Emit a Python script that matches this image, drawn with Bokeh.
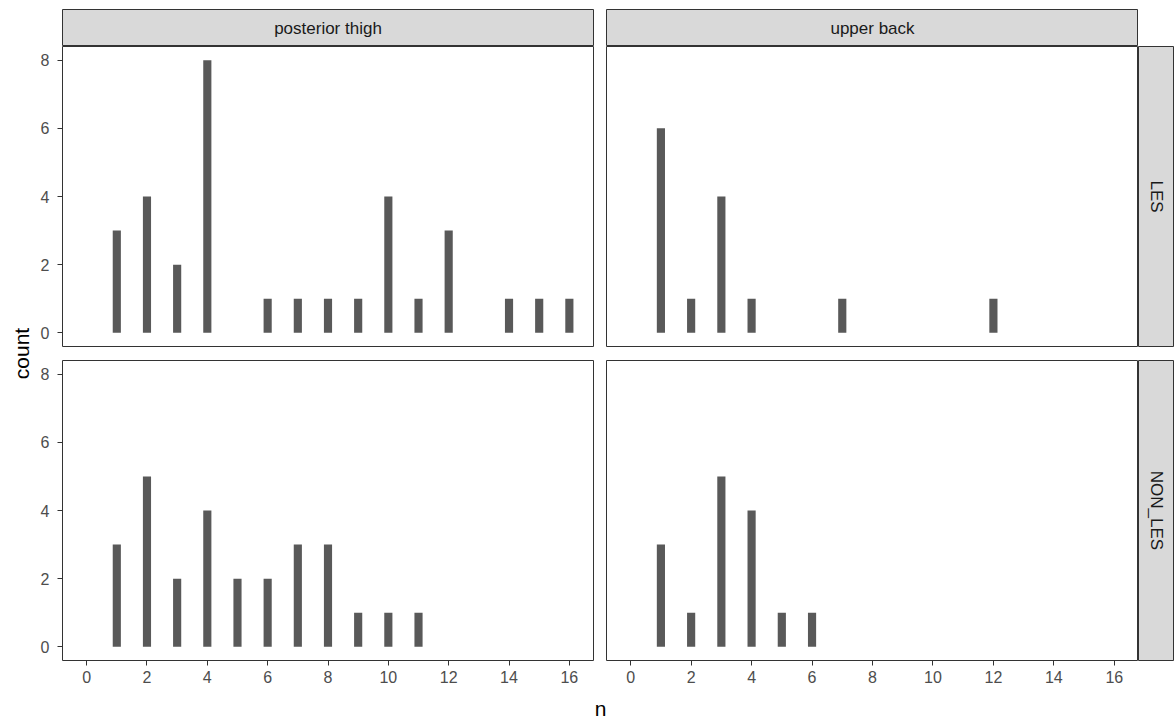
import math
from bokeh.plotting import figure
from bokeh.models import Range1d, FixedTicker, Spacer
from bokeh.layouts import row, column
from bokeh.embed import file_html
from bokeh.resources import INLINE
from bokeh.core.properties import value

# ---------------- data ----------------
col_labels = ["posterior thigh", "upper back"]
row_labels = ["LES", "NON_LES"]

pt_les_n = [1, 2, 3, 4, 6, 7, 8, 9, 10, 11, 12, 14, 15, 16]
pt_les_count = [3, 4, 2, 8, 1, 1, 1, 1, 4, 1, 3, 1, 1, 1]
ub_les_n = [1, 2, 3, 4, 7, 12]
ub_les_count = [6, 1, 4, 1, 1, 1]
pt_non_n = [1, 2, 3, 4, 5, 6, 7, 8, 9, 10, 11]
pt_non_count = [3, 5, 2, 4, 2, 2, 3, 3, 1, 1, 1]
ub_non_n = [1, 2, 3, 4, 5, 6]
ub_non_count = [3, 1, 5, 4, 1, 1]

x_ticks = [0, 2, 4, 6, 8, 10, 12, 14, 16]
y_ticks = [0, 2, 4, 6, 8]
x_title = "n"
y_title = "count"

# ---------------- style / layout ----------------
FONT = "Liberation Sans"
BAR = "#595959"
EDGE = "#333333"
STRIP_BG = "#d9d9d9"
TICK_TXT = "#4d4d4d"

COUNT_W = 34
LEFT_B = 28
GAP_L = 6
GAP_R = 7
FRAME_W_L = 531
FRAME_W_R = 532
STRIP_W = 36
TOP_PAD = 9
STRIP_H = 37
FRAME_H = 300
GAP_T = 7
GAP_B = 7
AXIS_B = 28
N_H = 33

left_w = LEFT_B + FRAME_W_L + GAP_L
right_w = GAP_R + FRAME_W_R
top_h = FRAME_H + GAP_T
bot_h = GAP_B + FRAME_H + AXIS_B
strip_row_h = TOP_PAD + STRIP_H
total_h = strip_row_h + top_h + bot_h + N_H
main_w = left_w + right_w + STRIP_W


def style_axis(ax, ticks):
    ax.ticker = FixedTicker(ticks=ticks)
    ax.axis_line_color = None
    ax.major_tick_line_color = EDGE
    ax.major_tick_line_width = 1
    ax.major_tick_out = 5
    ax.major_tick_in = 0
    ax.minor_tick_line_color = None
    ax.major_label_text_font = FONT
    ax.major_label_text_font_size = "16px"
    ax.major_label_text_color = TICK_TXT


def panel(ns, counts, width, height, show_x, show_y, bl, br, bt, bb):
    p = figure(width=width, height=height, output_backend="svg", toolbar_location=None,
               x_range=Range1d(-0.8, 16.8), y_range=Range1d(-0.4, 8.4),
               x_axis_location="below" if show_x else None,
               y_axis_location="left" if show_y else None,
               min_border_left=bl, min_border_right=br, min_border_top=bt, min_border_bottom=bb)
    p.grid.visible = False
    p.outline_line_color = EDGE
    p.outline_line_width = 1
    p.background_fill_color = "white"
    p.border_fill_color = "white"
    p.vbar(x=ns, top=counts, bottom=0, width=0.27, fill_color=BAR, line_color=None)
    if show_x:
        style_axis(p.xaxis[0], x_ticks)
        p.xaxis[0].major_label_standoff = 5
    if show_y:
        style_axis(p.yaxis[0], y_ticks)
        p.yaxis[0].major_label_standoff = 8
    return p


def strip(label, width, height, bl, br, bt, bb, angle=0.0):
    s = figure(width=width, height=height, output_backend="svg", toolbar_location=None,
               x_range=Range1d(0, 1), y_range=Range1d(0, 1),
               x_axis_location=None, y_axis_location=None,
               min_border_left=bl, min_border_right=br, min_border_top=bt, min_border_bottom=bb)
    s.grid.visible = False
    s.background_fill_color = STRIP_BG
    s.border_fill_color = "white"
    s.outline_line_color = EDGE
    s.outline_line_width = 1
    s.text(x=[0.5], y=[0.5], text=[label], angle=angle, text_align="center",
           text_baseline="middle", text_font=value(FONT), text_font_size="17px",
           text_color="#1a1a1a")
    return s


def text_fig(label, width, height, tx, ty, angle=0.0):
    f = figure(width=width, height=height, output_backend="svg", toolbar_location=None,
               x_range=Range1d(0, width), y_range=Range1d(0, height),
               x_axis_location=None, y_axis_location=None,
               min_border_left=0, min_border_right=0, min_border_top=0, min_border_bottom=0)
    f.grid.visible = False
    f.outline_line_color = None
    f.background_fill_color = "white"
    f.border_fill_color = "white"
    f.text(x=[tx], y=[ty], text=[label], angle=angle, text_align="center",
           text_baseline="middle", text_font=value(FONT), text_font_size="21px",
           text_color="black")
    return f


# strips on top
s_tl = strip(col_labels[0], left_w, strip_row_h, LEFT_B, GAP_L, TOP_PAD, 0)
s_tr = strip(col_labels[1], right_w, strip_row_h, GAP_R, 0, TOP_PAD, 0)
corner = Spacer(width=STRIP_W, height=strip_row_h)

# panels
p_tl = panel(pt_les_n, pt_les_count, left_w, top_h, False, True, LEFT_B, GAP_L, 0, GAP_T)
p_tr = panel(ub_les_n, ub_les_count, right_w, top_h, False, False, GAP_R, 0, 0, GAP_T)
p_bl = panel(pt_non_n, pt_non_count, left_w, bot_h, True, True, LEFT_B, GAP_L, GAP_B, AXIS_B)
p_br = panel(ub_non_n, ub_non_count, right_w, bot_h, True, False, GAP_R, 0, GAP_B, AXIS_B)

# right strips
r_top = strip(row_labels[0], STRIP_W, top_h, 0, 0, 0, GAP_T, angle=-math.pi / 2)
r_bot = strip(row_labels[1], STRIP_W, bot_h, 0, 0, GAP_B, AXIS_B, angle=-math.pi / 2)

# axis titles
panels_center_x = LEFT_B + (FRAME_W_L + GAP_L + GAP_R + FRAME_W_R) / 2
n_fig = text_fig(x_title, main_w, N_H, panels_center_x, 13)
panels_center_y = strip_row_h + (top_h + GAP_B + FRAME_H) / 2
count_fig = text_fig(y_title, COUNT_W, total_h, 21, total_h - panels_center_y, angle=math.pi / 2)

layout = row(
    count_fig,
    column(
        row(s_tl, s_tr, corner),
        row(p_tl, p_tr, r_top),
        row(p_bl, p_br, r_bot),
        n_fig,
    ),
)

open("out.html", "w").write(file_html(layout, INLINE))
